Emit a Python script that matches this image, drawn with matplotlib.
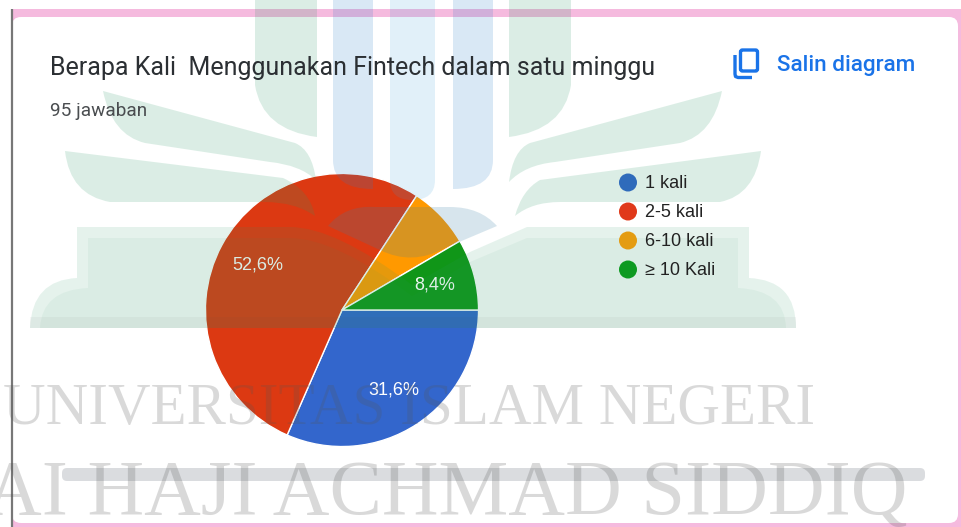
import matplotlib
matplotlib.use('Agg')
import matplotlib.pyplot as plt
from matplotlib.patches import PathPatch, FancyBboxPatch, Rectangle, Circle
from matplotlib.path import Path

# Responses per category (95 in total)
categories = ['1 kali', '2-5 kali', '6-10 kali', '≥ 10 Kali']
responses = [30, 50, 7, 8]
colors = ['#3366cc', '#dc3912', '#ff9900', '#109618']
legend_colors = ['#2f6bbb', '#e0391a', '#e49c12', '#0e9a22']

title = 'Berapa Kali  Menggunakan Fintech dalam satu minggu'
subtitle = '95 jawaban'
copy_label = 'Salin diagram'
watermark_1 = 'UNIVERSITAS ISLAM NEGERI'
watermark_2 = 'AI HAJI ACHMAD SIDDIQ'

W, H = 961, 527
fig = plt.figure(figsize=(W / 100, H / 100), dpi=100)
fig.patch.set_facecolor('white')


def px_axes(left, top, width, height, zorder):
    return fig.add_axes([left / W, 1 - (top + height) / H, width / W, height / H], zorder=zorder)


def shape(ax, verts, color='#2a9a66', alpha=0.17):
    # verts: first point, then (x, y) line points or (cx, cy, x, y) curve points
    v, c = [verts[0]], [Path.MOVETO]
    for p in verts[1:]:
        if len(p) == 2:
            v.append(p)
            c.append(Path.LINETO)
        else:
            v += [p[:2], p[2:]]
            c += [Path.CURVE3, Path.CURVE3]
    v.append(verts[0])
    c.append(Path.CLOSEPOLY)
    ax.add_patch(PathPatch(Path(v, c), fc=color, ec='none', alpha=alpha))


# background card
bg = px_axes(0, 0, W, H, 0)
bg.set_xlim(0, W)
bg.set_ylim(H, 0)
bg.axis('off')
bg.add_patch(Rectangle((11, 9), W - 11, H - 9, fc='#f5bade', ec='none'))
bg.add_patch(FancyBboxPatch((20, 25), 930, 490, boxstyle='round,pad=8,rounding_size=9', fc='white', ec='none'))
bg.plot([11.5, 11.5], [9, H], color='#777777', lw=1.6, solid_capstyle='butt')

# pie
pie_ax = px_axes(172, 140, 340, 340, 1)
pie_ax.pie(responses, colors=colors, startangle=0, counterclock=False, radius=1.004,
           wedgeprops={'edgecolor': 'white', 'linewidth': 1},
           autopct=lambda p: f'{p:.1f}%'.replace('.', ',') if p > 8 else '',
           pctdistance=0.7, textprops={'color': 'white', 'fontsize': 13, 'family': 'Liberation Sans'})

# overlay with the watermark and all the text
top = px_axes(0, 0, W, H, 2)
top.set_xlim(0, W)
top.set_ylim(H, 0)
top.axis('off')
top.patch.set_alpha(0)

# vertical bars of the logo
shape(top, [(255, 0), (317, 0), (317, 137), (262, 130, 255, 85)])
shape(top, [(509, 0), (571, 0), (571, 85), (564, 130, 509, 137)])
shape(top, [(333, 0), (373, 0), (373, 189), (333, 189, 333, 160)], '#2f80c8', 0.18)
shape(top, [(390, 0), (435, 0), (435, 180), (435, 200, 412, 200), (390, 200, 390, 180)], '#3aa0d8', 0.15)
shape(top, [(453, 0), (493, 0), (493, 160), (493, 189, 453, 189)], '#2f80c8', 0.18)

# leaves
shape(top, [(103, 91), (295, 143), (312, 150, 316, 180), (300, 165, 270, 162), (145, 143), (112, 135, 103, 91)])
shape(top, [(722, 91), (530, 143), (513, 150, 509, 182), (525, 165, 555, 162), (680, 143), (713, 135, 722, 91)])
shape(top, [(65, 151), (283, 178), (310, 190, 315, 216), (295, 202, 265, 202), (110, 202), (70, 195, 65, 151)])
shape(top, [(761, 151), (540, 180), (522, 190, 515, 216), (532, 202, 560, 202), (720, 202), (755, 195, 761, 151)])

# open book at the bottom of the logo: lighter bevel, inner face, darker bottom strip
shape(top, [(77, 227), (290, 227), (335, 227, 412, 285), (470, 252), (527, 227), (749, 227), (749, 278),
            (796, 280, 796, 328), (30, 328), (32, 280, 77, 278)], alpha=0.12)
shape(top, [(88, 238), (290, 238), (335, 238, 412, 296), (470, 262), (527, 238), (738, 238), (738, 288),
            (785, 290, 786, 328), (40, 328), (42, 290, 88, 288)], alpha=0.06)
top.add_patch(Rectangle((30, 317), 766, 11, fc='#555555', ec='none', alpha=0.05))

# small arch in the middle of the logo
shape(top, [(328, 226), (345, 205, 375, 207), (450, 207), (480, 207, 497, 226), (445, 248), (412, 266, 380, 250)],
      '#3a80a8', 0.2)

# university name across the picture
top.text(3, 424, watermark_1, family='Liberation Serif', fontsize=42.5, color='#555555', alpha=0.22, va='baseline')
top.text(-15, 514, watermark_2, family='Liberation Serif', fontsize=56.5, color='#555555', alpha=0.22, va='baseline', clip_on=True)
top.add_patch(FancyBboxPatch((66, 472), 855, 5, boxstyle='round,pad=4,rounding_size=5', fc='#5a6070', ec='none', alpha=0.22))

# headings
top.text(50, 75, title, family='Roboto', fontsize=18, color='#2b2f33', va='baseline')
top.text(50, 116, subtitle, family='Roboto', fontsize=13.7, color='#4a4d50', va='baseline')
top.text(777, 71, copy_label, family='Roboto', fontsize=16.2, weight=500, color='#1a73e8', va='baseline')

# copy icon
top.add_patch(FancyBboxPatch((740.5, 50), 17, 21, boxstyle='round,pad=0,rounding_size=2', fc='none', ec='#1a73e8', lw=2.4))
top.plot([735, 735, 735.5, 738, 752], [55, 74, 76.5, 77.5, 77.5], color='#1a73e8', lw=2.4, solid_capstyle='butt')

# legend
for i, (name, col) in enumerate(zip(categories, legend_colors)):
    y = 182.5 + i * 29
    top.add_patch(Circle((628, y), 9, fc=col, ec='none', zorder=4))
    top.text(645, y + 5.5, name, family='Liberation Sans', fontsize=13, color='#222222', va='baseline', zorder=4)

fig.savefig('out.png', dpi=100)
